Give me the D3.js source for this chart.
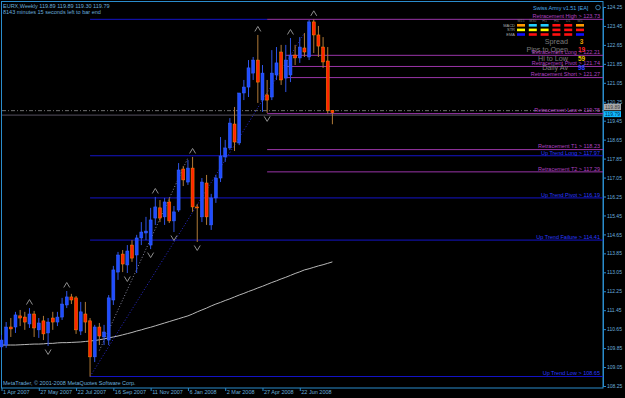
<!DOCTYPE html>
<meta charset="utf-8">
<title>EURX,Weekly</title>
<script src="https://d3js.org/d3.v7.min.js"></script>
<style>
body {margin: 0; background: #000;}
svg text {font-family: "Liberation Sans", Arial, sans-serif;}
</style>
<body>
<div id="chart"></div>
<script>
// weekly bars from 1 Apr 2007
var opens  = [109.90,109.98,110.74,110.74,111.21,111.16,110.87,111.29,110.62,111.00,110.49,111.12,110.95,111.16,111.67,112.01,111.97,110.57,111.29,111.00,109.48,110.74,110.32,110.19,111.88,113.06,113.82,113.36,114.20,113.78,114.50,114.71,114.20,115.34,115.77,115.39,116.02,115.22,115.68,117.41,116.86,117.45,115.81,115.39,116.82,115.05,116.19,117.03,117.92,118.30,119.31,118.51,120.62,120.87,121.46,122.01,120.32,120.54,120.45,121.38,122.35,121.25,121.38,122.22,122.10,122.52,122.14,123.62,123.07,122.56,121.97,119.89];
var highs  = [110.40,110.95,111.12,111.38,111.46,111.38,111.54,111.42,111.12,111.21,111.12,111.38,111.38,111.97,112.26,112.14,112.05,111.80,111.80,111.12,110.83,110.91,110.83,112.09,113.32,113.91,113.99,114.20,114.41,114.63,115.17,115.39,115.77,116.23,116.10,116.19,116.19,115.85,117.66,117.54,117.79,117.92,115.93,117.03,117.16,116.36,117.16,118.76,118.64,119.56,120.03,120.62,121.17,122.01,122.14,123.07,121.80,121.17,122.43,122.56,122.65,122.65,122.94,122.65,122.98,123.15,123.70,123.73,123.45,122.98,122.56,119.89];
var lows   = [109.77,109.86,110.32,110.49,110.78,110.62,110.70,110.32,110.28,110.19,109.94,110.62,110.78,111.04,111.54,111.71,110.45,110.40,110.49,108.65,109.26,109.98,109.98,109.98,111.67,112.73,113.06,113.02,113.49,113.02,114.20,114.41,114.03,115.05,115.17,115.05,115.13,114.75,115.60,116.69,116.74,115.60,114.33,115.17,115.05,114.84,115.98,116.86,117.71,118.21,118.17,118.42,120.32,120.45,121.17,120.20,119.82,119.78,120.32,121.17,120.96,120.66,121.08,121.80,121.89,122.14,122.01,122.31,122.14,121.68,119.75,119.30];
var closes = [110.19,110.74,110.66,111.25,111.12,110.95,111.29,110.70,110.91,110.45,110.95,110.95,111.16,111.71,112.01,111.88,110.62,111.38,110.95,109.48,110.74,110.36,110.53,111.97,113.15,113.78,113.40,113.95,113.65,114.50,114.75,114.79,115.26,115.81,115.34,116.02,115.22,115.60,117.37,116.95,117.45,115.81,115.77,116.86,115.39,116.19,117.03,117.96,118.30,119.35,118.55,120.62,120.87,121.68,122.01,121.08,121.46,120.32,121.46,121.89,121.17,122.01,122.22,122.10,122.56,122.35,123.62,123.07,122.60,121.93,119.88,119.79];

// slow moving average (grey curve)
var ma = [109.98,109.98,109.98,109.98,109.99,110.00,110.01,110.02,110.02,110.03,110.05,110.05,110.07,110.08,110.08,110.09,110.10,110.11,110.13,110.15,110.17,110.20,110.24,110.28,110.32,110.36,110.41,110.46,110.51,110.57,110.62,110.68,110.73,110.79,110.85,110.91,110.97,111.03,111.09,111.15,111.21,111.29,111.38,111.46,111.54,111.63,111.71,111.78,111.86,111.93,112.01,112.09,112.16,112.24,112.31,112.39,112.46,112.54,112.62,112.69,112.77,112.84,112.92,113.00,113.07,113.15,113.20,113.26,113.32,113.37,113.43,113.49];

// fractal bars
var upFractals = [6, 14, 33, 41, 55, 62, 67];
var downFractals = [10, 27, 32, 37, 42, 57];

// EA levels
var levelNames  = ["Retracement High","Retracement Long","Retracement Pivot","Retracement Short","Retracement Low","Retracement T1","Retracement T2","Up Trend Long","Up Trend Pivot","Up Trend Failure","Up Trend Low"];
var levelValues = [123.73,122.21,121.74,121.27,119.75,118.23,117.29,117.97,116.19,114.41,108.65];
var levelFrom   = [57,61,61,61,57,57,57,19,19,19,19];
var levelGroup  = ["r","r","r","r","r","r","r","u","u","u","u"];

// dotted trend lines [bar, price]
var trendStarts = [[19,108.65],[21,109.75]];
var trendEnds   = [[65,123.15],[40,117.88]];

var priceTicks = [124.25,123.45,122.65,121.85,121.05,120.25,119.45,118.65,117.85,117.05,116.25,115.45,114.65,113.85,113.05,112.25,111.45,110.65,109.85,109.05,108.25];
var dateTicks = ["2007-04-01","2007-05-27","2007-07-22","2007-09-16","2007-11-11","2008-01-06","2008-03-02","2008-04-27","2008-06-22"];

var panelRows = ["MACD","STR","EMA"];
var panelCols = ["M15","M30","H1","H4","D1","W1"];
var panelColors = [
  ["#ff9900","#22ccff","#22ccff","#ff1010","#ff1010","#ff9900"],
  ["#ffff00","#ffff00","#ffff00","#ff1010","#ff1010","#ff1010"],
  ["#1010ff","#ff1010","#ff1010","#ff1010","#ff1010","#1010ff"]
];
var statNames  = ["Spread","Pips to Open","Hi to Low","Daily Av"];
var statValues = ["3","19","59","98"];
var statColors = ["#e8a000","#ff2020","#e8c800","#2a40ff"];

var W = 625, H = 398;
var axisText = "#6aaedc", frame = "#2a8ccc";
var purple = "#9a35a8", blue = "#1414c8";

var svg = d3.select("#chart").append("svg")
    .attr("width", W).attr("height", H)
    .style("background", "#000");

var start = new Date(2007, 3, 1);
var dates = opens.map(function(d, i) { return d3.timeWeek.offset(start, i); });

var x = d3.scaleTime()
  .domain([dates[0], dates[dates.length - 1]])
  .range([1.5, 332.4]);
var y = d3.scaleLinear()
  .domain([108.25, 124.25])
  .range([386, 7]);

// frame
svg.append("rect")
  .attr("x", 1.5).attr("y", 1.5)
  .attr("width", 601.5).attr("height", 386.5)
  .attr("fill", "none").attr("stroke", frame);

// Y axis on the right
var yAxis = svg.append("g")
  .attr("transform", "translate(603,0)")
  .call(d3.axisRight(y).tickValues(priceTicks).tickSize(3).tickPadding(1).tickFormat(d3.format(".2f")));
yAxis.select(".domain").attr("stroke", frame);
yAxis.selectAll("line").attr("stroke", frame);
yAxis.selectAll("text").attr("fill", axisText).style("font-size", "5px");

// X axis
var xAxis = svg.append("g")
  .attr("transform", "translate(0,388)")
  .call(d3.axisBottom(x)
    .tickValues(dateTicks.map(function(s) { return d3.timeParse("%Y-%m-%d")(s); }))
    .tickSize(3).tickPadding(1)
    .tickFormat(d3.timeFormat("%-d %b %Y")));
xAxis.select(".domain").remove();
xAxis.selectAll("line").attr("stroke", frame);
xAxis.selectAll("text").attr("fill", axisText).style("font-size", "5.5px")
  .attr("text-anchor", "start").attr("dx", "1").attr("y", 2);

var plot = svg.append("g");

// full width lines: bid (dash dot) and retracement low shadow
plot.append("line")
  .attr("x1", 2).attr("x2", 603)
  .attr("y1", y(closes[closes.length - 1]) - 2).attr("y2", y(closes[closes.length - 1]) - 2)
  .attr("stroke", "#8c8c8c").attr("stroke-width", 0.8).attr("stroke-dasharray", "4,2,1,2");
plot.append("line")
  .attr("x1", 2).attr("x2", 603)
  .attr("y1", y(levelValues[4]) + 1.5).attr("y2", y(levelValues[4]) + 1.5)
  .attr("stroke", "#55505e").attr("stroke-width", 1);

// up trend high (blue, under retracement high)
plot.append("line")
  .attr("x1", x(dates[19])).attr("x2", x(dates[57]))
  .attr("y1", y(levelValues[0])).attr("y2", y(levelValues[0]))
  .attr("stroke", blue);

// levels
levelValues.forEach(function(v, i) {
  var c = levelGroup[i] == "r" ? purple : blue;
  plot.append("line")
    .attr("x1", x(dates[levelFrom[i]])).attr("x2", 603)
    .attr("y1", y(v)).attr("y2", y(v))
    .attr("stroke", c).attr("stroke-width", 1);
});

// moving average
plot.append("path")
  .datum(ma)
  .attr("fill", "none").attr("stroke", "#b8b8b8").attr("stroke-width", 1)
  .attr("d", d3.line().x(function(d, i) { return x(dates[i]); }).y(function(d) { return y(d); }));

// dotted trend lines
var trendColors = ["#2a2ad0", "#8a8aa0"];
trendStarts.forEach(function(s, i) {
  plot.append("line")
    .attr("x1", x(dates[s[0]])).attr("y1", y(s[1]))
    .attr("x2", x(dates[trendEnds[i][0]])).attr("y2", y(trendEnds[i][1]))
    .attr("stroke", trendColors[i]).attr("stroke-width", 1).attr("stroke-dasharray", "1,2");
});

// candles
var bars = plot.append("g").selectAll("g").data(dates).enter().append("g");
bars.append("line")
  .attr("x1", function(d) { return x(d); }).attr("x2", function(d) { return x(d); })
  .attr("y1", function(d, i) { return y(highs[i]); })
  .attr("y2", function(d, i) { return y(lows[i]); })
  .attr("stroke", function(d, i) { return closes[i] >= opens[i] ? "#2f55e8" : "#b07a38"; })
  .attr("stroke-width", 1);
bars.append("rect")
  .attr("x", function(d) { return x(d) - 1.5; })
  .attr("width", 3)
  .attr("y", function(d, i) { return y(Math.max(opens[i], closes[i])); })
  .attr("height", function(d, i) { return Math.max(1, Math.abs(y(opens[i]) - y(closes[i]))); })
  .attr("fill", function(d, i) { return closes[i] >= opens[i] ? "#1f4cff" : "#ff2400"; })
  .attr("stroke", function(d, i) { return closes[i] >= opens[i] ? "#3a66ff" : "#ff8a00"; })
  .attr("stroke-width", 0.5);

// fractals
plot.selectAll(".fup").data(upFractals).enter().append("path")
  .attr("d", function(i) { var cx = x(dates[i]), cy = y(highs[i]) - 6; return "M" + (cx - 3) + "," + (cy + 2.5) + "L" + cx + "," + (cy - 2.5) + "L" + (cx + 3) + "," + (cy + 2.5); })
  .attr("fill", "none").attr("stroke", "#8e8e8e").attr("stroke-width", 1);
plot.selectAll(".fdn").data(downFractals).enter().append("path")
  .attr("d", function(i) { var cx = x(dates[i]), cy = y(lows[i]) + 6; return "M" + (cx - 3) + "," + (cy - 2.5) + "L" + cx + "," + (cy + 2.5) + "L" + (cx + 3) + "," + (cy - 2.5); })
  .attr("fill", "none").attr("stroke", "#8e8e8e").attr("stroke-width", 1);

// panel (behind level labels)
var panel = svg.append("g");
panel.append("text").attr("x", 533).attr("y", 9.5)
  .attr("fill", "#4aa8e8").style("font-size", "5.5px").text("Swiss Army v1.51 [EA]");
panel.append("circle").attr("cx", 598).attr("cy", 7.5).attr("r", 2.3)
  .attr("fill", "none").attr("stroke", "#4aa8e8").attr("stroke-width", 0.7);
panelCols.forEach(function(c, j) {
  panel.append("text").attr("x", 521 + j * 11.8).attr("y", 22.3)
    .attr("text-anchor", "middle").attr("fill", "#707070").style("font-size", "3.6px").text(c);
});
panelRows.forEach(function(r, k) {
  panel.append("text").attr("x", 515).attr("y", 26.7 + k * 4.5)
    .attr("text-anchor", "end").attr("fill", "#a8a8a8").style("font-size", "4px").text(r);
  panelColors[k].forEach(function(c, j) {
    panel.append("rect").attr("x", 517 + j * 11.8).attr("y", 24 + k * 4.6)
      .attr("width", 8).attr("height", 2.6).attr("fill", c);
  });
});
statNames.forEach(function(s, k) {
  panel.append("text").attr("x", 568).attr("y", 43.8 + k * 8.6)
    .attr("text-anchor", "end").attr("fill", "#7a7a7a").style("font-size", "7.2px").text(s);
  panel.append("text").attr("x", 581.5).attr("y", 43.8 + k * 8.6)
    .attr("text-anchor", "middle").attr("fill", statColors[k]).style("font-size", "6.5px")
    .style("font-weight", "bold").text(statValues[k]);
});

// level labels
levelValues.forEach(function(v, i) {
  svg.append("text")
    .attr("x", 600).attr("y", y(v) - 1.2)
    .attr("text-anchor", "end")
    .attr("fill", levelGroup[i] == "r" ? "#b040c0" : "#2a3aff")
    .style("font-size", "5.5px")
    .text(levelNames[i] + " > " + v.toFixed(2));
});

// price boxes
var last = closes.length - 1;
svg.append("rect").attr("x", 604).attr("y", y(opens[last]) - 6.5).attr("width", 17).attr("height", 6.5).attr("fill", "#a8a8a8");
svg.append("text").attr("x", 612.5).attr("y", y(opens[last]) - 1.4).attr("text-anchor", "middle")
  .attr("fill", "#404040").style("font-size", "5px").text(opens[last].toFixed(2));
svg.append("rect").attr("x", 604).attr("y", y(closes[last]) - 1.5).attr("width", 17).attr("height", 6).attr("fill", "#10b8ff");
svg.append("text").attr("x", 612.5).attr("y", y(closes[last]) + 3.3).attr("text-anchor", "middle")
  .attr("fill", "#003050").style("font-size", "5px").text(closes[last].toFixed(2));

// title and footer
svg.append("text").attr("x", 3).attr("y", 7.5).attr("fill", axisText).style("font-size", "5.5px")
  .text("EURX,Weekly  " + [opens[last], highs[last], lows[last], closes[last]].map(function(v) { return v.toFixed(2); }).join(" "));
svg.append("text").attr("x", 3).attr("y", 13.5).attr("fill", axisText).style("font-size", "5.5px")
  .text("8143 minutes 15 seconds left to bar end");
svg.append("text").attr("x", 3).attr("y", 385).attr("fill", axisText).style("font-size", "5.5px")
  .text("MetaTrader, \u00a9 2001-2008 MetaQuotes Software Corp.");
</script>
